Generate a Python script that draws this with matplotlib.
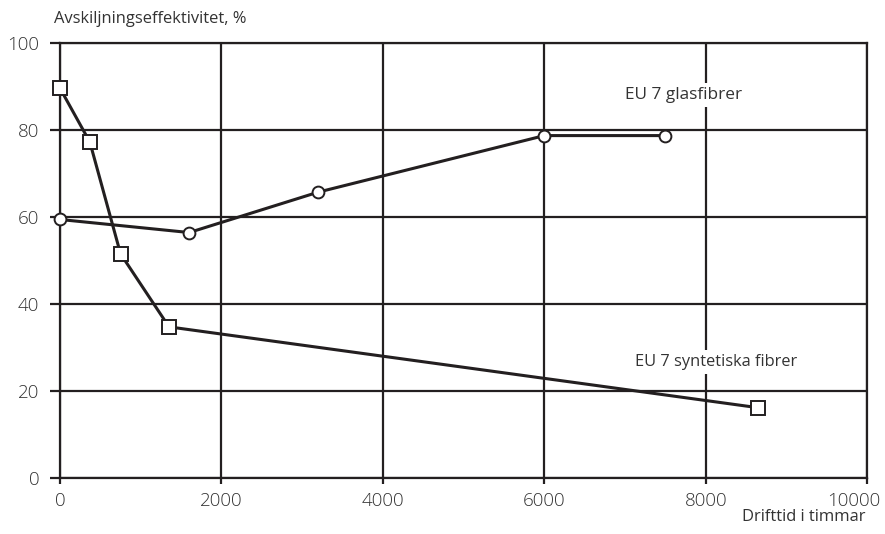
import matplotlib.pyplot as plt
from matplotlib.transforms import ScaledTranslation

plt.rcParams['font.family'] = ['Open Sans', 'DejaVu Sans']

# EU 7 syntetiska fibrer (squares)
synt_x = [0, 370, 750, 1350, 8650]
synt_y = [89.6, 77.2, 51.5, 34.7, 16.1]

# EU 7 glasfibrer (circles)
glas_x = [0, 1600, 3200, 6000, 7500]
glas_y = [59.4, 56.4, 65.7, 78.7, 78.7]

x_ticks = [0, 2000, 4000, 6000, 8000, 10000]
y_ticks = [0, 20, 40, 60, 80, 100]

ink = '#231f20'
txt = '#333333'

fig = plt.figure(figsize=(8.85, 5.34), dpi=100)
ax = fig.add_axes([0.0678, 0.1054, 0.9122, 0.8141])

ax.set_xlim(0, 10000)
ax.set_ylim(0, 100)
ax.set_xticks(x_ticks)
ax.set_yticks(y_ticks)
ax.grid(True, color=ink, linewidth=1.6, zorder=1)
for s in ax.spines.values():
    s.set_color(ink)
    s.set_linewidth(1.6)
ax.tick_params(axis='y', direction='out', length=7, width=1.6, color=ink,
               labelsize=13.5, labelcolor=txt, pad=8)
ax.tick_params(axis='x', direction='out', length=4, width=1.6, color=ink,
               labelsize=13.5, labelcolor=txt, pad=6)
for lab in ax.get_xticklabels() + ax.get_yticklabels():
    lab.set_fontweight('light')
# last x label sits a bit left of its grid line, as in the original
last = ax.get_xticklabels()[-1]
last.set_transform(last.get_transform() + ScaledTranslation(-14 / 100, 0, fig.dpi_scale_trans))

ax.plot(synt_x, synt_y, color=ink, linewidth=2.2, marker='s', markersize=10,
        markerfacecolor='white', markeredgecolor=ink, markeredgewidth=1.4,
        zorder=4, clip_on=False)
ax.plot(glas_x, glas_y, color=ink, linewidth=2.2, marker='o', markersize=8.5,
        markerfacecolor='white', markeredgecolor=ink, markeredgewidth=1.4,
        zorder=4, clip_on=False)

box = dict(facecolor='white', edgecolor='none', pad=3)
ax.text(7730, 88, 'EU 7 glasfibrer', fontsize=12.4, color=txt,
        ha='center', va='center', bbox=box, zorder=5)
ax.text(8130, 26.6, 'EU 7 syntetiska fibrer', fontsize=11.8, color=txt,
        ha='center', va='center', bbox=box, zorder=5)

fig.text(54 / 885, 1 - 19 / 534, 'Avskiljningseffektivitet, %', fontsize=11.9,
         color=txt, ha='left', va='center')
fig.text(866 / 885, 1 - 517 / 534, 'Drifttid i timmar', fontsize=11.9,
         color=txt, ha='right', va='center')

fig.savefig('out.png', dpi=100, facecolor='white')
